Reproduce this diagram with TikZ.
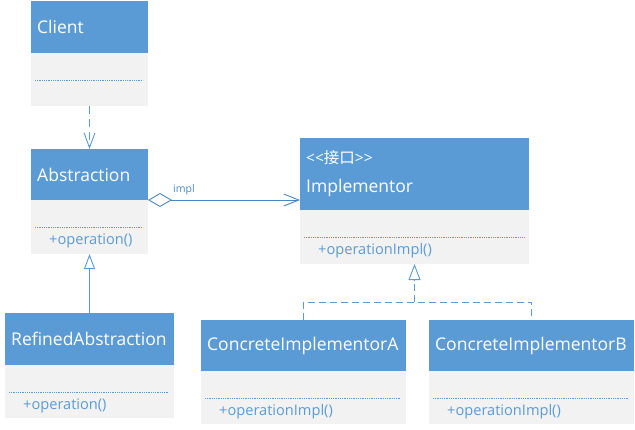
\documentclass[tikz,border=0pt]{standalone}
\usepackage{fontspec}
\setmainfont{Open Sans}
\newfontfamily\stereofont{Open Sans}
\newfontfamily\cjk{Noto Sans CJK SC}
\usetikzlibrary{arrows.meta,calc}
\definecolor{umlblue}{HTML}{5B9BD5}
\definecolor{umlline}{HTML}{4A86C5}
\definecolor{umlgray}{HTML}{F2F2F2}
\tikzset{
  hdrbox/.style={fill=umlblue, anchor=north west, inner sep=0pt, outer sep=0pt},
  bodybox/.style={fill=umlgray, anchor=north west, inner sep=0pt, outer sep=0pt},
  classtitle/.style={text=white, anchor=west, inner sep=0pt, align=left,
    font=\fontsize{17.5}{21}\selectfont},
  sepline/.style={draw=umlblue, line width=0.8pt, dash pattern=on 0.9pt off 0.9pt},
  optext/.style={text=umlblue, anchor=west, inner sep=0pt, font=\fontsize{14.6}{17}\selectfont},
  conn/.style={draw=umlblue, line width=0.9pt},
  depend/.style={conn, dash pattern=on 8pt off 5pt, -{Straight Barb[length=15pt,width=11pt]}},
  assoc/.style={draw=umlline, line width=0.9pt,
    {Diamond[open,length=24pt,width=14pt]}-{Straight Barb[length=15pt,width=12pt]}},
  general/.style={conn, -{Triangle[open,fill=white,length=15pt,width=11pt]}},
  realize/.style={conn, dash pattern=on 7pt off 4pt},
  rolelabel/.style={text=umlline, inner sep=0pt, anchor=south west, font=\fontsize{10.5}{12}\selectfont},
}
% name, x, y, width, header height, body height, title, operation
\newcommand\umlclass[8]{%
  \node[hdrbox, minimum width=#4pt, minimum height=#5pt] (#1) at (#2,#3) {};
  \node[classtitle] (#1-title) at ($(#1.west)+(6,0)$) {#7};
  \node[bodybox, minimum width=#4pt, minimum height=#6pt] (#1-body) at (#1.south west) {};
  \draw[sepline] ($(#1-body.north west)+(4,27.5)$) -- ($(#1-body.north east)+(-5,27.5)$);
  \node[optext] (#1-op) at ($(#1-body.north west)+(18,41)$) {#8};
}
\begin{document}
\begin{tikzpicture}[x=1pt,y=-1pt]
\useasboundingbox (0,0) rectangle (635,429);

\umlclass{client}{31}{1}{117}{52}{53}{Client}{}
\umlclass{abstraction}{31}{149}{117}{51}{54}{Abstraction}{+operation()}
\umlclass{implementor}{300}{138}{229}{72}{54}{{\fontsize{15.5}{16}\selectfont\stereofont <{}<{\cjk 接口}>{}>}\\[8pt]Implementor}{+operationImpl()}
\umlclass{refined}{5}{313}{169}{52}{53}{RefinedAbstraction}{+operation()}
\umlclass{concreteA}{201}{320}{205}{51}{53}{ConcreteImplementorA}{+operationImpl()}
\umlclass{concreteB}{429}{320}{205}{51}{53}{ConcreteImplementorB}{+operationImpl()}

% Client uses Abstraction
\draw[depend] (client-body.south) -- (abstraction.north);

% Abstraction aggregates an Implementor
\draw[assoc] (abstraction.south east) -- (abstraction.south east -| implementor.west);
\node[rolelabel] (impl-role) at ($(abstraction.south east)+(25,-5)$) {impl};

% RefinedAbstraction extends Abstraction
\draw[general] (refined.north) -- (abstraction-body.south);

% Concrete implementors realize Implementor
\coordinate (join) at ($(implementor-body.south)+(0,38)$);
\draw[realize] (concreteA.north) |- (join) -| (concreteB.north);
\draw[realize, -{Triangle[open,fill=white,length=16pt,width=12pt]}] (join) -- (implementor-body.south);
\end{tikzpicture}
\end{document}
